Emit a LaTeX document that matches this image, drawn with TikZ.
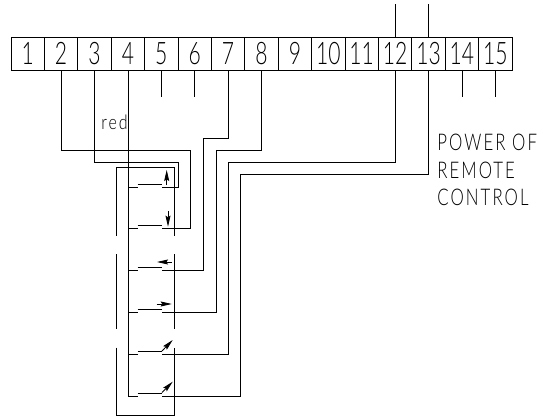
\documentclass[tikz,border=0pt]{standalone}
\usepackage{fontspec}
\usepackage{xcolor}
\usetikzlibrary{arrows.meta,calc}
\newfontfamily\isofont[FakeStretch=.68,UprightFont={* Light}]{Lato}
\newfontfamily\isowide[FakeStretch=.73,LetterSpace=9,UprightFont={* Light}]{Lato}
\newfontfamily\isosmall[FakeStretch=.8,LetterSpace=10,UprightFont={* Light}]{Lato}

\begin{document}
\begin{tikzpicture} [x=1pt, y=-1pt, line width=0.8pt,
        terminal/.style={draw, minimum width=33.4pt, minimum height=33.7pt, inner sep=0pt,
                font=\isofont\fontsize{31}{31}\selectfont},
        contact/.style={-{Stealth[length=11pt,width=5pt,inset=1.5pt]}, line width=0.8pt}]
        \useasboundingbox (0,0) rectangle (546,417);

        % Terminal strip
        \foreach \i in {1,...,15} {
            \node[terminal] (t\i) at (33.4*\i-5.7, 53.8) {\i};
        }

        % Function to draw a single switch
        \newcommand{\drawSwitch}[2]{
            % Argument #1: name, argument #2: y of the contact
            \coordinate (#1l) at (128,#2);
            \coordinate (#1r) at (162,#2);
            \draw (#1l) -- ++(9.5,0);
            \draw (137.5,#2-3) -- (162,#2-3);
        }
        \foreach \n/\y in {a/187,b/228,c/270.7,d/312,e/354,f/396} {
            \drawSwitch{\n}{\y}
        }

        % Short stubs
        \foreach \i in {5,6,14,15} {
            \draw (t\i.south) -- ++(0,26);
        }
        \draw (t12.north) -- ++(0,-33);
        \draw (t13.north) -- ++(0,-33);

        % Wires from the strip to the switches
        \draw (t2.south) |- (190,150) |- (br);
        \draw (t3.south) |- (178,162) |- (ar);
        \draw (t7.south) |- (203,138) |- (cr);
        \draw (t8.south) |- (216,150) |- (dr);
        \draw (t12.south) |- (228,162) |- (er);
        \draw (t13.south) |- (240.5,174.5) |- (fr);

        % Common wire
        \draw (t4.south) |- ($(fl)+(9.5,0)$);

        % Frame round the switches
        \draw (116.3,235.7) -- (116.3,167.7) -- (174,167.7) -- (174,235.7);
        \draw (116.3,254) -- (116.3,329);
        \draw (174,254) -- (174,329);
        \draw (116.3,347.7) |- (174,415) -- (174,347.7);

        % Arrows of the switches
        \draw[contact] (166.7,185) -- (166.7,170);
        \draw[contact] (168,211) -- (168,226.7);
        \draw[contact] (171.7,262) -- (157,262);
        \draw[contact] (156.7,304) -- (171.7,304);
        \draw[contact] (162,351) -- (172.7,340);
        \draw[contact] (162,392.5) -- (172.7,381.7);

        % Labels
        \node[inner sep=0pt, anchor=west, font=\isosmall\fontsize{20}{20}\selectfont] (redlabel) at (101,122.5) {red};
        \node[inner sep=0pt, anchor=north west, align=left,
              font=\isowide\fontsize{23}{27.3}\selectfont] (powerlabel) at (437,134) {POWER OF\\REMOTE\\CONTROL};
\end{tikzpicture}
\end{document}
